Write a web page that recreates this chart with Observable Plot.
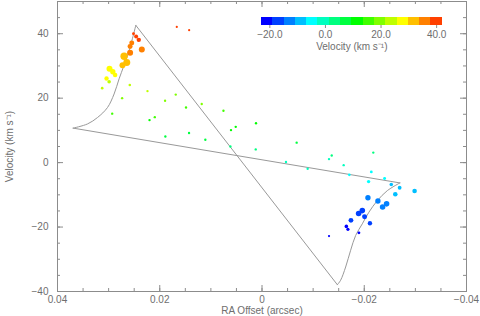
<!DOCTYPE html>
<html><head><meta charset="utf-8">
<script src="https://cdn.jsdelivr.net/npm/d3@7"></script>
<script src="https://cdn.jsdelivr.net/npm/@observablehq/plot@0.6"></script>
<style>
body{margin:0;background:#fff}
#wrap{position:relative;width:480px;height:316px}
#cbar{position:absolute;left:241px;top:10px}
</style>
</head><body><div id="wrap"><div id="main"></div><div id="cbar"></div></div>
<script>
// Observed components (RA offset in arcsec, velocity in km/s, relative flux)
const raOffset = [0.02513,0.02462,0.0241,0.02547,0.0258,0.02351,0.0258,0.02697,0.02645,0.02729,
  0.02983,0.02918,0.02873,0.03041,0.0299,0.03126,0.02586,0.0224,0.02736,0.01687,
  0.01896,0.01486,0.0293,0.02097,0.022,0.01667,0.01425,
  0.01179,0.0189,0.01427,0.01108,0.00754,0.00514,0.00606,0.00117,0.00618,0.00123,
  -0.00678,-0.00469,-0.00893,-0.01311,-0.01364,-0.01597,-0.02177,
  -0.01708,-0.02138,-0.02085,-0.02398,-0.02529,-0.02692,-0.02607,-0.02985,-0.02072,-0.02267,
  -0.02437,-0.02359,-0.01962,-0.0189,-0.02007,-0.0174,-0.02111,-0.0165,-0.01681,-0.01896,-0.01311];
const velocity = [40.0,39.1,38.1,37.1,36.0,35.1,34.1,33.0,31.1,30.2,
  29.1,28.2,27.2,26.1,25.1,23.1,24.1,22.2,20.0,21.1,
  19.2,17.1,15.2,14.1,13.2,42.1,41.1,
  18.2,8.1,9.2,7.1,16.1,11.1,10.1,12.2,5.0,4.1,
  6.2,0.2,-1.9,1.1,2.2,-0.8,3.1,
  -3.8,-2.9,-5.9,-4.9,-6.8,-7.8,-9.8,-8.8,-10.9,-11.9,
  -12.8,-13.8,-14.9,-15.8,-16.8,-17.9,-18.8,-19.8,-20.7,-21.8,-22.8];
const flux = [1.1,2.0,2.4,3.1,3.1,4.5,4.5,6.8,6.1,4.5,
  4.5,3.6,2.6,2.4,1.6,0.85,0.85,0.7,0.7,0.7,
  0.7,0.7,0.7,0.7,0.7,0.6,0.6,
  0.7,0.7,0.7,0.7,0.7,0.7,0.7,0.7,0.7,0.7,
  0.7,0.7,0.7,0.7,0.7,0.7,0.7,
  0.85,1.0,1.45,1.1,1.6,1.8,2.6,2.6,3.6,3.6,
  3.9,3.9,3.9,3.9,3.1,2.9,2.4,1.6,1.3,1.0,0.6];

// Model envelope: upper curve, outer-radius line, lower curve, inner-radius line
const modelSeg = ["upper","upper","upper","upper","upper","upper","upper","upper","upper","upper",
  "outer","outer",
  "lower","lower","lower","lower","lower","lower","lower","lower","lower","lower",
  "inner","inner"];
const modelRa = [0.02468,0.02546,0.02611,0.02703,0.02795,0.02893,0.03022,0.03217,0.03413,0.03694,
  0.03694,-0.02697,
  -0.02697,-0.02451,-0.02256,-0.02091,-0.01962,-0.01832,-0.01734,-0.01636,-0.01538,-0.01474,
  -0.01474,0.02468];
const modelVel = [42.6,37.8,34.1,30.0,26.0,21.3,17.1,14.0,12.0,10.7,
  10.7,-6.3,
  -6.3,-8.7,-11.8,-15.4,-19.0,-22.6,-27.2,-32.4,-36.5,-37.9,
  -37.9,42.6];

// Colour bar
const barColors = ["#0000ff","#0040ff","#0080ff","#00bfff","#00ffff","#00ffbf","#00ff80","#00ff40",
  "#00ff00","#40ff00","#80ff00","#bfff00","#ffff00","#ffbf00","#ff8000","#ff4000"];
const barRange = [-23, 42];
const barTicks = [-20, 0, 20, 40];

// Axis ticks
const xMajor = [0.04, 0.02, 0, -0.02, -0.04];
const xMinor = d3.range(-40, 41, 5).map(d => d / 1000);
const yMajor = [-40, -20, 0, 20, 40];
const yMinor = d3.range(-40, 51, 5);

const points = raOffset.map((x, i) => ({x, v: velocity[i], f: flux[i]}));
const model = modelRa.map((x, i) => ({x, v: modelVel[i], s: modelSeg[i]}));
const nBins = barColors.length;
const step = (barRange[1] - barRange[0]) / nBins;
const thresholds = d3.range(1, nBins).map(i => barRange[0] + i * step);
const colorScale = {type: "threshold", domain: thresholds, range: barColors};
const font = {fontFamily: "'Liberation Sans', Arial, sans-serif", fontSize: "10px", color: "#6e6e6e", background: "#fff"};

const W = 480, H = 316, mL = 57, mR = 14, mT = 1, mB = 25;
const innerW = W - mL - mR, innerH = H - mT - mB;
const tc = "#8c8c8c";

const main = Plot.plot({
  width: W, height: H, marginLeft: mL, marginRight: mR, marginTop: mT, marginBottom: mB,
  style: font,
  x: {domain: [0.04, -0.04]},
  y: {domain: [-40, 50]},
  color: colorScale,
  r: {type: "sqrt", domain: [0, 8], range: [0, 4]},
  marks: [
    Plot.line(model, {x: "x", y: "v", z: "s", curve: "catmull-rom", stroke: "#999", strokeWidth: 1}),
    Plot.dot(points, {x: "x", y: "v", r: "f", fill: "v"}),
    Plot.ruleX(xMajor, {insetTop: innerH - 6, stroke: tc}),
    Plot.ruleX(xMajor, {insetBottom: innerH - 6, stroke: tc}),
    Plot.ruleX(xMinor, {insetTop: innerH - 3, stroke: tc}),
    Plot.ruleX(xMinor, {insetBottom: innerH - 3, stroke: tc}),
    Plot.ruleY(yMajor, {insetRight: innerW - 6, stroke: tc}),
    Plot.ruleY(yMajor, {insetLeft: innerW - 6, stroke: tc}),
    Plot.ruleY(yMinor, {insetRight: innerW - 3, stroke: tc}),
    Plot.ruleY(yMinor, {insetLeft: innerW - 3, stroke: tc}),
    Plot.frame({stroke: tc}),
    Plot.axisX(xMajor, {tickSize: 0, tickPadding: 4, tickFormat: "~g", label: null}),
    Plot.axisX({tickSize: 0, ticks: [], label: "RA Offset (arcsec)", labelAnchor: "center", labelArrow: "none", labelOffset: 22.5}),
    Plot.axisY(yMajor, {tickSize: 0, tickPadding: 9, label: "Velocity (km s⁻¹)", labelAnchor: "center", labelArrow: "none", labelOffset: 52})
  ]
});
document.getElementById("main").append(main);

const bins = barColors.map((c, i) => ({lo: barRange[0] + i * step, hi: barRange[0] + (i + 1) * step}));
const cb = Plot.plot({
  width: 220, height: 44, marginLeft: 20, marginRight: 19.3, marginTop: 6.7, marginBottom: 29,
  style: {...font, background: "transparent"},
  x: {domain: barRange},
  color: colorScale,
  marks: [
    Plot.rect(bins, {x1: "lo", x2: "hi", fill: d => (d.lo + d.hi) / 2, shapeRendering: "crispEdges"}),
    Plot.axisX(barTicks, {tickSize: 3, tickPadding: 2, tickFormat: ".1f", stroke: tc, label: "Velocity (km s⁻¹)", labelAnchor: "center", labelArrow: "none", labelOffset: 24})
  ]
});
document.getElementById("cbar").append(cb);
</script>
</body></html>
